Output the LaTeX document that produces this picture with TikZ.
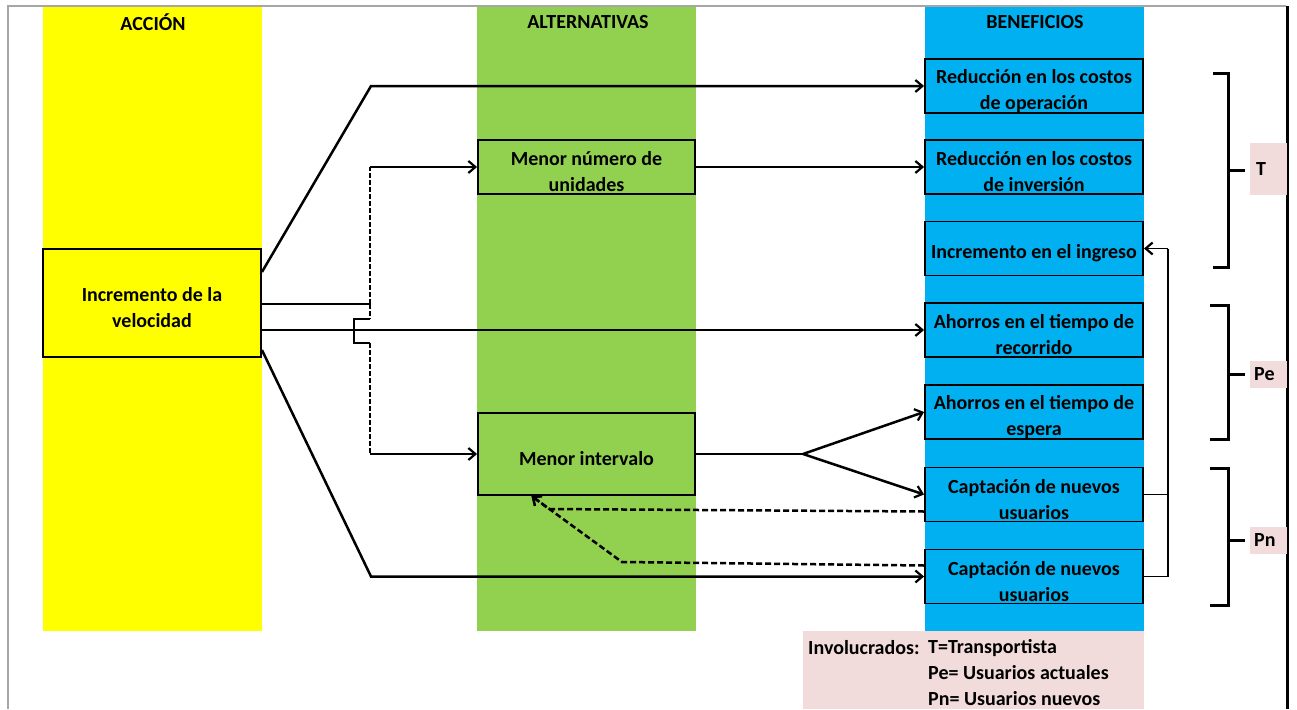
\documentclass[tikz,border=0pt]{standalone}
\usepackage{fontspec}
\setmainfont{Carlito}
\usetikzlibrary{arrows.meta,calc}
\definecolor{colAccion}{HTML}{FFFF00}
\definecolor{colAlt}{HTML}{92D050}
\definecolor{colBen}{HTML}{00B0F0}
\definecolor{colRosa}{HTML}{F2DCDB}
\definecolor{colMarco}{HTML}{A6A6A6}
\newcommand{\boxfont}{\fontsize{20}{26}\selectfont\bfseries}
\tikzset{
  column/.style={fill=#1, draw=none},
  header/.style={font=\fontsize{20}{22}\selectfont\bfseries, inner sep=0pt},
  box/.style={draw, line width=1.9pt, inner sep=0pt},
  boxtext/.style={label={[font=\boxfont, align=center, inner sep=0pt, yshift=-5pt]center:#1}},
  accion/.style={box, fill=colAccion, minimum width=218pt, minimum height=108pt},
  altern/.style={box, fill=colAlt, minimum width=217pt},
  benef/.style={box, fill=colBen, minimum width=218pt, minimum height=54pt},
  conn/.style={line width=2.5pt},
  thin conn/.style={line width=1.7pt},
  tip/.style={-{Straight Barb[length=7pt,width=12pt,line width=2.2pt]}},
  bracket/.style={line width=3pt},
  tag/.style={fill=colRosa, font=\fontsize{20}{22}\selectfont\bfseries, anchor=west, inner sep=0pt, text width=37pt, align=left},
  legend/.style={anchor=west, font=\boxfont, inner sep=0pt},
}
\begin{document}
\begin{tikzpicture}[x=1pt,y=-1pt]
\useasboundingbox (0,0) rectangle (1297,709);
\fill[white] (0,0) rectangle (1297,709);

% column backgrounds
\fill[column=colAccion] (43,7) rectangle (262,631);
\fill[column=colAlt] (477,7) rectangle (696,631);
\fill[column=colBen] (925,7) rectangle (1144,631);

% legend
\fill[colRosa] (803,631) rectangle (1144,709);
\node[legend] (lg0) at (808,648) {Involucrados:};
\node[legend] (lg1) at (928,648) {T=Transportista};
\node[legend] (lg2) at (928,673) {Pe= Usuarios actuales};
\node[legend] (lg3) at (928,699) {Pn= Usuarios nuevos};

% frame
\draw[colMarco, line width=1.5pt] (8,709) -- (8,6) -- (1286,6);
\draw[black, line width=3pt] (1287,6) -- (1287,709);

% headers
\node[header] (h1) at (153,22) {ACCIÓN};
\node[header] (h2) at (588,22) {ALTERNATIVAS};
\node[header] (h3) at (1035,22) {BENEFICIOS};

% boxes
\node[accion, boxtext={Incremento de la\\velocidad}] (A) at (152,303) {};
\node[altern, minimum height=54pt, boxtext={Menor número de\\unidades}] (M1) at (586.5,167) {};
\node[altern, minimum height=82pt, boxtext={Menor intervalo}] (M2) at (586.5,454) {};
\node[benef, boxtext={Reducción en los costos\\de operación}] (B1) at (1034,86) {};
\node[benef, boxtext={Reducción en los costos\\de inversión}] (B2) at (1034,167) {};
\node[benef, boxtext={Incremento en el ingreso}] (B3) at (1034,248.5) {};
\node[benef, boxtext={Ahorros en el tiempo de\\recorrido}] (B4) at (1034,330) {};
\node[benef, boxtext={Ahorros en el tiempo de\\espera}] (B5) at (1034,412) {};
\node[benef, boxtext={Captación de nuevos\\usuarios}] (B6) at (1034,494.5) {};
\node[benef, boxtext={Captación de nuevos\\usuarios}] (B7) at (1034,576.5) {};

% bend points
\coordinate (k1) at (371,86);
\coordinate (j1) at (370,304);
\coordinate (c1) at (370,167);
\coordinate (g1) at (370,319);
\coordinate (g2) at (354,319);
\coordinate (g3) at (354,343);
\coordinate (g4) at (370,343);
\coordinate (c2) at (370,454);
\coordinate (k4) at (371,576.5);
\coordinate (f1) at (803,454);
\coordinate (r1) at (1168,248.5);
\coordinate (d1) at (549,509);
\coordinate (d2) at (622,562);
\coordinate (tipM2) at ([xshift=-55pt]M2.south);

% connectors from the action
\draw[conn, tip] ([yshift=31pt]A.east) -- (k1) -- (B1.west);
\draw[conn] ([yshift=-1pt]A.east) -- (j1);
\draw[conn, dashed, dash pattern=on 5pt off 2pt] (j1) -- (c1);
\draw[conn, tip] (c1) -- (M1.west);
\draw[conn, dashed, dash pattern=on 5pt off 2pt] (j1) -- (g1);
\draw[conn] (g1) -- (g2) -- (g3) -- (g4);
\draw[conn, dashed, dash pattern=on 5pt off 2pt] (g4) -- (c2);
\draw[conn, tip] (c2) -- (M2.west);
\draw[thin conn, tip] (A.east |- B4.west) -- (B4.west);
\draw[conn, tip] ([yshift=-47pt]A.east) -- (k4) -- (B7.west);

% alternatives to benefits
\draw[conn, tip] (M1.east) -- (B2.west);
\draw[conn] (M2.east) -- (f1);
\draw[conn, tip] (f1) -- (B5.west);
\draw[conn, tip] (f1) -- (B6.west);

% new users feed the revenue
\draw[thin conn] (B7.east) -| (r1);
\draw[thin conn] (B6.east) -- (B6.east -| r1);
\draw[thin conn, tip] (r1) -- (B3.east);

% feedback to shorter headway
\draw[conn, dashed, dash pattern=on 6pt off 3pt, tip] ([yshift=-17pt]B6.west) -- (d1) -- (tipM2);
\draw[conn, dashed, dash pattern=on 6pt off 3pt, tip] ([yshift=11pt]B7.west) -- (d2) -- (tipM2);

% stakeholder brackets
\draw[bracket] (1213,73) -- (1228,73) -- (1228,267) -- (1213,267);
\draw[bracket] (1228,170) -- (1245,170);
\draw[bracket] (1210,305) -- (1228,305) -- (1228,439) -- (1210,439);
\draw[bracket] (1228,374) -- (1245,374);
\draw[bracket] (1210,468) -- (1228,468) -- (1228,605) -- (1210,605);
\draw[bracket] (1228,540) -- (1245,540);

% stakeholder tags
\node[tag, minimum height=52pt] (tT) at (1250,169) {\hspace{6pt}T};
\node[tag, minimum height=27pt] (tPe) at (1250,374) {\hspace{4pt}Pe};
\node[tag, minimum height=27pt] (tPn) at (1250,540) {\hspace{4pt}Pn};
\end{tikzpicture}
\end{document}
